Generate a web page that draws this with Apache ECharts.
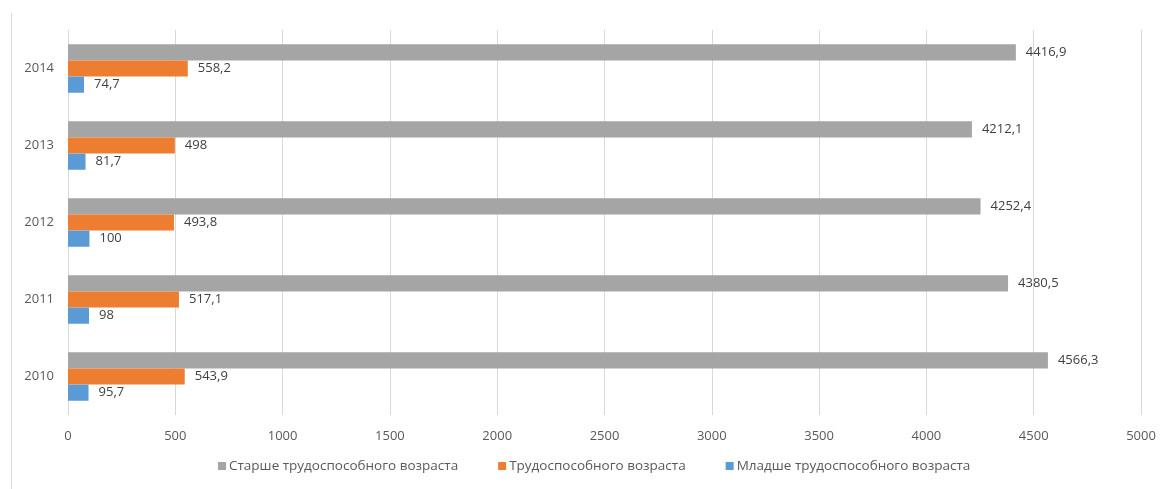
<!DOCTYPE html>
<html>
<head>
<meta charset="utf-8">
<script src="https://cdn.jsdelivr.net/npm/echarts@6/dist/echarts.min.js"></script>
<style>
html,body{margin:0;padding:0;background:#fff;}
#c{width:1166px;height:489px;}
</style>
</head>
<body>
<div id="c"></div>
<script>
const years = ['2010', '2011', '2012', '2013', '2014'];
const olderNames = 'Старше трудоспособного возраста';
const workNames = 'Трудоспособного возраста';
const youngNames = 'Младше трудоспособного возраста';
const olderVals = [4566.3, 4380.5, 4252.4, 4212.1, 4416.9];
const workVals = [543.9, 517.1, 493.8, 498, 558.2];
const youngVals = [95.7, 98, 100, 81.7, 74.7];
const xTicks = [0, 500, 1000, 1500, 2000, 2500, 3000, 3500, 4000, 4500, 5000];

const chart = echarts.init(document.getElementById('c'), null, {renderer: 'canvas'});
const fontFam = '"Open Sans", "Noto Sans", "DejaVu Sans", sans-serif';
function lbl() {
  return {
    show: true, position: 'right', distance: 10,
    color: '#404040', fontSize: 13, fontFamily: fontFam,
    formatter: p => String(p.value).replace('.', ',')
  };
}
chart.setOption({
  animation: false,
  grid: {left: 68, right: 25, top: 30, bottom: 74, containLabel: false},
  legend: {
    data: [olderNames, workNames, youngNames],
    bottom: 11, left: 213,
    itemWidth: 8, itemHeight: 8, itemGap: 40,
    icon: 'rect',
    textStyle: {color: '#595959', fontSize: 13.5, fontFamily: fontFam, padding: [0, 0, 0, -2]}
  },
  xAxis: {
    type: 'value', min: xTicks[0], max: xTicks[xTicks.length - 1], interval: 500,
    axisLine: {show: false}, axisTick: {show: false},
    splitLine: {show: true, lineStyle: {color: '#d9d9d9', width: 1}},
    axisLabel: {color: '#595959', fontSize: 13, fontFamily: fontFam, margin: 15,
      formatter: v => String(v)}
  },
  yAxis: {
    type: 'category', data: years,
    axisLine: {show: false}, axisTick: {show: false},
    axisLabel: {color: '#595959', fontSize: 13, fontFamily: fontFam, margin: 14}
  },
  series: [
    {name: olderNames, type: 'bar', data: olderVals, itemStyle: {color: '#a5a5a5'}, barGap: '0%', barCategoryGap: '37%', label: lbl()},
    {name: workNames, type: 'bar', data: workVals, itemStyle: {color: '#ed7d31'}, barGap: '0%', barCategoryGap: '37%', label: lbl()},
    {name: youngNames, type: 'bar', data: youngVals, itemStyle: {color: '#5b9bd5'}, barGap: '0%', barCategoryGap: '37%', label: lbl()}
  ],
  graphic: [{
    type: 'line', shape: {x1: 11.5, y1: 13, x2: 11.5, y2: 489},
    style: {stroke: '#d9d9d9', lineWidth: 1}
  }]
});
</script>
</body>
</html>
